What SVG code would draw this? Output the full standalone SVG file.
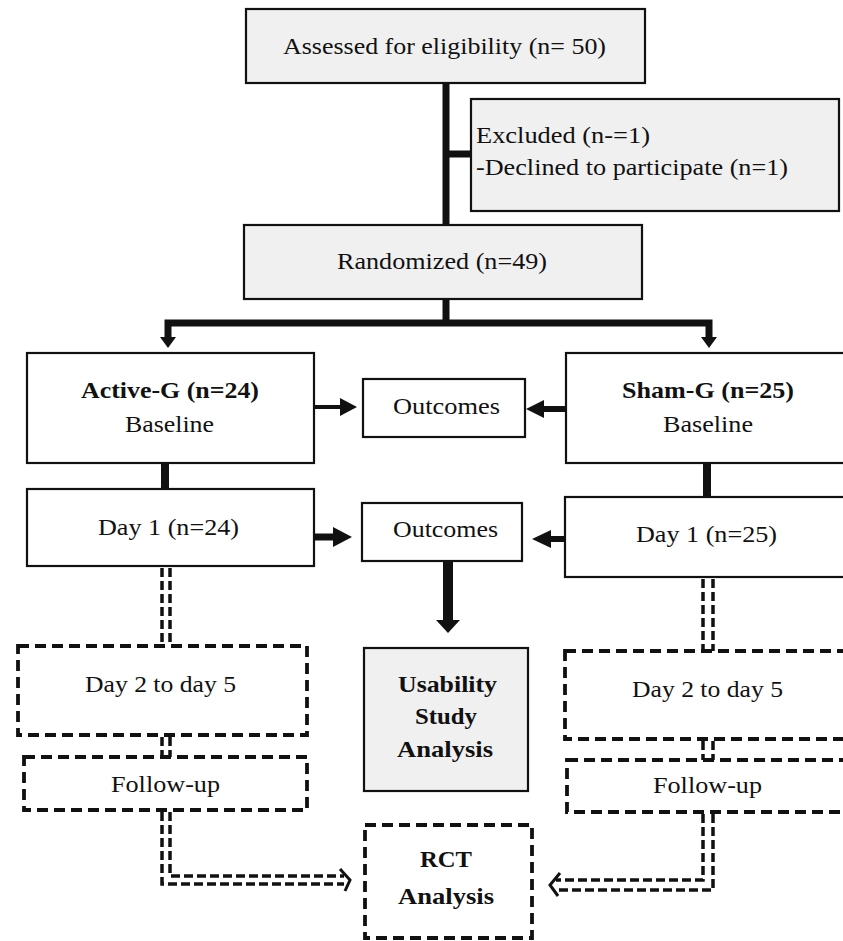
<svg xmlns="http://www.w3.org/2000/svg" width="843" height="941" viewBox="0 0 843 941">
<style>
.bg{fill:#ffffff}
.box{fill:#ffffff;stroke:#111;stroke-width:2.2}
.gray{fill:#f0f0f0;stroke:#111;stroke-width:2.2}
.dbox{fill:#ffffff;stroke:#111;stroke-width:3.8;stroke-dasharray:11 6}
.t{font-family:"Liberation Serif","Times New Roman",serif;font-size:24px;fill:#111}
.c{text-anchor:middle}
.b{font-weight:bold}
.thick{stroke:#111;fill:none;stroke-linecap:butt}
.dd{stroke:#111;fill:none;stroke-width:3.5;stroke-dasharray:9 4}
.head{fill:#111;stroke:none}
</style>
<rect class="bg" x="0" y="0" width="843" height="941"/>

<g id="connectors">
  <line class="thick" x1="446" y1="83" x2="446" y2="225" stroke-width="7"/>
  <line class="thick" x1="446" y1="154" x2="471" y2="154" stroke-width="7"/>
  <line class="thick" x1="446" y1="299" x2="446" y2="323" stroke-width="7"/>
  <polyline class="thick" points="168,338 168,323 709,323 709,338" stroke-width="7"/>
  <polygon class="head" points="160,337 176,337 168,348"/>
  <polygon class="head" points="701,337 717,337 709,348"/>
  <line class="thick" x1="314" y1="407" x2="341" y2="407" stroke-width="4"/>
  <polygon class="head" points="340,398 357,407 340,416"/>
  <line class="thick" x1="566" y1="409" x2="542" y2="409" stroke-width="6"/>
  <polygon class="head" points="544,400 526,409 544,418"/>
  <line class="thick" x1="165" y1="463" x2="165" y2="489" stroke-width="8"/>
  <line class="thick" x1="707" y1="463" x2="707" y2="497" stroke-width="8"/>
  <line class="thick" x1="314" y1="537" x2="334" y2="537" stroke-width="7"/>
  <polygon class="head" points="333,527 352,537 333,547"/>
  <line class="thick" x1="565" y1="539" x2="548" y2="539" stroke-width="6"/>
  <polygon class="head" points="551,530 532,539 551,548"/>
  <line class="thick" x1="448" y1="561" x2="448" y2="621" stroke-width="10"/>
  <polygon class="head" points="436,620 460,620 448,633"/>
  <line class="dd" x1="162" y1="568" x2="162" y2="646"/>
  <line class="dd" x1="170" y1="568" x2="170" y2="646"/>
  <line class="dd" x1="162" y1="737" x2="162" y2="757"/>
  <line class="dd" x1="170" y1="737" x2="170" y2="757"/>
  <polyline class="dd" points="162,812 162,884 344,884"/>
  <polyline class="dd" points="170,812 170,876 344,876"/>
  <polyline points="340,869 350,880 345,891" fill="none" stroke="#111" stroke-width="3"/>
  <line class="dd" x1="703" y1="579" x2="703" y2="651"/>
  <line class="dd" x1="713" y1="579" x2="713" y2="651"/>
  <line class="dd" x1="703" y1="741" x2="703" y2="760"/>
  <line class="dd" x1="713" y1="741" x2="713" y2="760"/>
  <polyline class="dd" points="703,814 703,880 556,880"/>
  <polyline class="dd" points="713,814 713,890 556,890"/>
  <polyline points="560,873 550,885 558,896" fill="none" stroke="#111" stroke-width="3"/>
</g>

<g id="assessed">
  <rect class="gray" x="246" y="9" width="399" height="74"/>
  <text class="t c" x="444.5" y="54" textLength="323" lengthAdjust="spacingAndGlyphs">Assessed for eligibility (n= 50)</text>
</g>
<g id="excluded">
  <rect class="gray" x="471" y="99" width="368" height="112"/>
  <text class="t" x="476" y="143" textLength="174" lengthAdjust="spacingAndGlyphs">Excluded (n-=1)</text>
  <text class="t" x="476" y="175" textLength="312" lengthAdjust="spacingAndGlyphs">-Declined to participate (n=1)</text>
</g>
<g id="randomized">
  <rect class="gray" x="244" y="225" width="398" height="74"/>
  <text class="t c" x="442" y="269" textLength="210" lengthAdjust="spacingAndGlyphs">Randomized (n=49)</text>
</g>
<g id="active-baseline">
  <rect class="box" x="27" y="353" width="287" height="110"/>
  <text class="t c b" x="170" y="398" textLength="178" lengthAdjust="spacingAndGlyphs">Active-G (n=24)</text>
  <text class="t c" x="169.5" y="432" textLength="89" lengthAdjust="spacingAndGlyphs">Baseline</text>
</g>
<g id="outcomes1">
  <rect class="box" x="363" y="379" width="162" height="58"/>
  <text class="t c" x="446.5" y="414" textLength="107" lengthAdjust="spacingAndGlyphs">Outcomes</text>
</g>
<g id="sham-baseline">
  <rect class="box" x="566" y="353" width="290" height="110"/>
  <text class="t c b" x="708" y="398" textLength="172" lengthAdjust="spacingAndGlyphs">Sham-G (n=25)</text>
  <text class="t c" x="708" y="432" textLength="90" lengthAdjust="spacingAndGlyphs">Baseline</text>
</g>
<g id="active-day1">
  <rect class="box" x="27" y="489" width="287" height="77"/>
  <text class="t c" x="168.5" y="535" textLength="141" lengthAdjust="spacingAndGlyphs">Day 1 (n=24)</text>
</g>
<g id="outcomes2">
  <rect class="box" x="362" y="503" width="160" height="58"/>
  <text class="t c" x="445.5" y="537" textLength="105" lengthAdjust="spacingAndGlyphs">Outcomes</text>
</g>
<g id="sham-day1">
  <rect class="box" x="565" y="497" width="291" height="80"/>
  <text class="t c" x="706.5" y="542" textLength="141" lengthAdjust="spacingAndGlyphs">Day 1 (n=25)</text>
</g>
<g id="active-day2-5">
  <rect class="dbox" x="18" y="646" width="289" height="89"/>
  <text class="t c" x="160.5" y="692" textLength="151" lengthAdjust="spacingAndGlyphs">Day 2 to day 5</text>
</g>
<g id="active-followup">
  <rect class="dbox" x="24" y="757" width="283" height="53"/>
  <text class="t c" x="165.5" y="792" textLength="109" lengthAdjust="spacingAndGlyphs">Follow-up</text>
</g>
<g id="usability">
  <rect class="gray" x="364" y="648" width="164" height="143"/>
  <text class="t c b" x="447.5" y="692" textLength="99" lengthAdjust="spacingAndGlyphs">Usability</text>
  <text class="t c b" x="446" y="724" textLength="62" lengthAdjust="spacingAndGlyphs">Study</text>
  <text class="t c b" x="445" y="757" textLength="96" lengthAdjust="spacingAndGlyphs">Analysis</text>
</g>
<g id="rct">
  <rect class="dbox" x="365" y="825" width="167" height="113"/>
  <text class="t c b" x="446" y="867" textLength="52" lengthAdjust="spacingAndGlyphs">RCT</text>
  <text class="t c b" x="446" y="904" textLength="96" lengthAdjust="spacingAndGlyphs">Analysis</text>
</g>
<g id="sham-day2-5">
  <rect class="dbox" x="565" y="651" width="291" height="88"/>
  <text class="t c" x="707.5" y="697" textLength="151" lengthAdjust="spacingAndGlyphs">Day 2 to day 5</text>
</g>
<g id="sham-followup">
  <rect class="dbox" x="567" y="760" width="289" height="52"/>
  <text class="t c" x="707.5" y="793" textLength="109" lengthAdjust="spacingAndGlyphs">Follow-up</text>
</g>
</svg>
